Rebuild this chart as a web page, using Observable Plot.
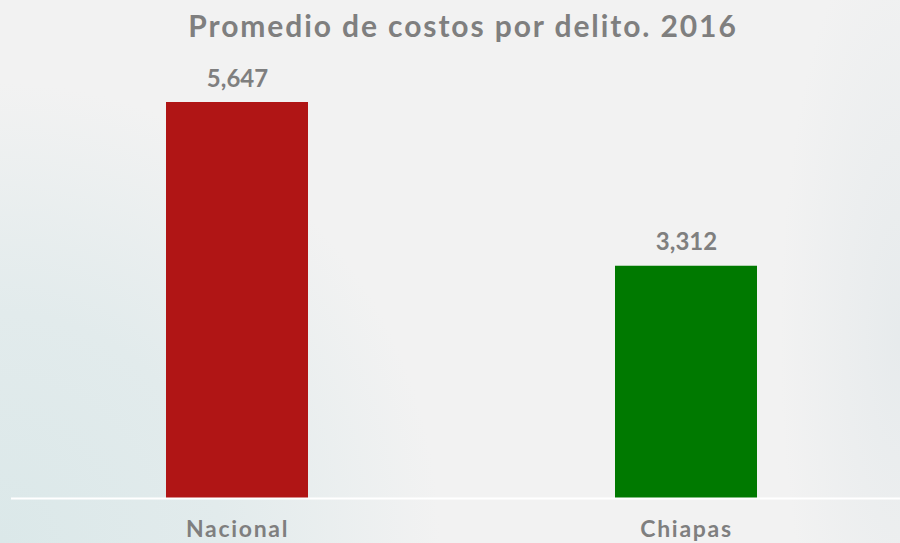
<!DOCTYPE html>
<html>
<head>
<meta charset="utf-8">
<script src="https://cdn.jsdelivr.net/npm/d3@7"></script>
<script src="https://cdn.jsdelivr.net/npm/@observablehq/plot@0.6"></script>
<style>
  html, body { margin: 0; padding: 0; }
  body {
    width: 900px; height: 543px; overflow: hidden;
    background:
      radial-gradient(ellipse 120px 420px at 100% 62%, rgba(228,233,235,0.8) 0%, rgba(242,242,242,0) 100%),
      radial-gradient(ellipse 440px 460px at 0% 100%, #dbe8e9 0%, #e2ebec 50%, #f2f2f2 100%),
      #f2f2f2;
    font-family: Lato, "Open Sans", sans-serif;
  }
  #title {
    box-sizing: border-box; height: 50px; padding-top: 10px;
    line-height: 30px; font-size: 30px; font-weight: 700; letter-spacing: 1.9px;
    color: #7f7f7f; text-align: center; padding-left: 26px;
  }
  #chart svg { background: transparent; display: block; }
  #chart svg g[aria-label="x-axis tick label"] text { letter-spacing: 1.7px; }
</style>
</head>
<body>
<div id="title">Promedio de costos por delito. 2016</div>
<div id="chart"></div>
<script>
const categories = ["Nacional", "Chiapas"];
const values = [5647, 3312];
const colors = ["#b01515", "#007900"];

const data = categories.map((c, i) => ({category: c, value: values[i], color: colors[i]}));

const chart = Plot.plot({
  width: 900,
  height: 493,
  marginTop: 52,
  marginBottom: 45,
  marginLeft: 11,
  marginRight: 0,
  style: {background: "transparent", fontFamily: "Lato, 'Open Sans', sans-serif"},
  x: {domain: categories, range: [11, 911], paddingInner: 0.6844, paddingOuter: 0.3444, label: null},
  y: {domain: [0, 5647], axis: null},
  marks: [
    Plot.barY(data, {x: "category", y: "value", fill: "color"}),
    Plot.ruleY([0], {stroke: "#ffffff", strokeWidth: 1.8}),
    Plot.text(data, {
      x: "category", y: "value", text: d => d3.format(",")(d.value),
      lineAnchor: "bottom", dy: -16, fontSize: 24, fontWeight: 700, fill: "#7f7f7f"
    }),
    Plot.axisX({tickSize: 0, tickPadding: 22, fontSize: 23, fontWeight: 700, fill: "#7f7f7f", label: null})
  ]
});
document.getElementById("chart").appendChild(chart);
</script>
</body>
</html>
